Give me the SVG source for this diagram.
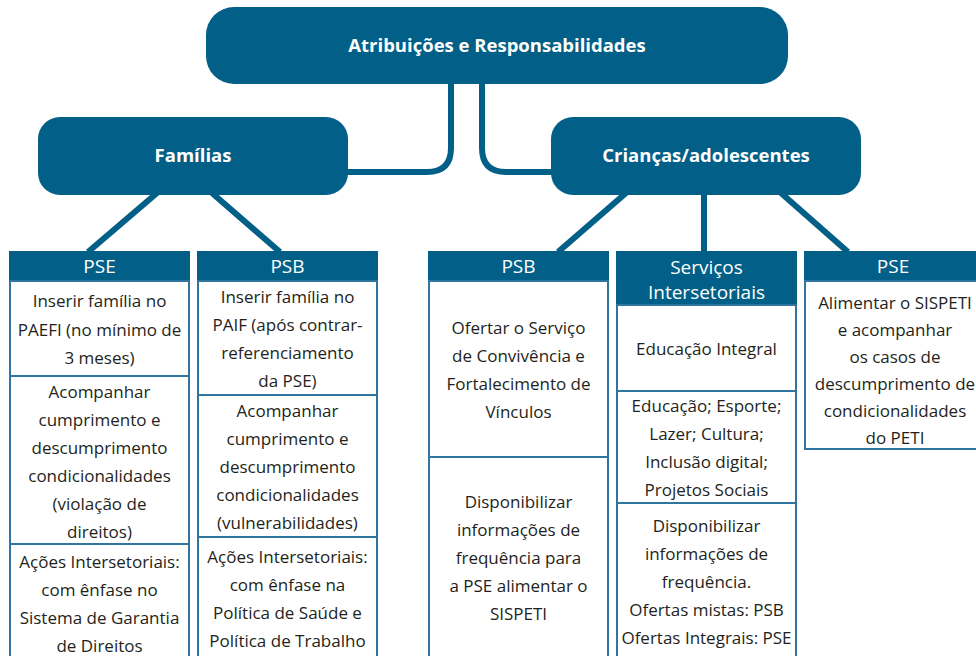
<svg xmlns="http://www.w3.org/2000/svg" width="976" height="656" viewBox="0 0 976 656">
<style>
.bx{fill:#025f87}
.hd{fill:#025f87}
.cell{fill:#ffffff;stroke:#2f75a0;stroke-width:2}
.ln{fill:none;stroke:#025f87;stroke-width:6}
.tb{font-family:"Open Sans",sans-serif;font-weight:bold;font-size:18.5px;fill:#ffffff;text-anchor:middle}
.th{font-family:"Open Sans",sans-serif;font-size:19px;fill:#ffffff;text-anchor:middle}
.t{font-family:"Open Sans",sans-serif;font-size:17px;fill:#231f20;text-anchor:middle}
</style>
<rect width="976" height="656" fill="#ffffff"/>
<g id="connectors">
<path class="ln" d="M451,80 V148 Q451,172 427,172 H345"/>
<path class="ln" d="M482,80 V148 Q482,172 506,172 H555"/>
<line class="ln" x1="157" y1="193" x2="88" y2="252"/>
<line class="ln" x1="212" y1="193" x2="280" y2="252"/>
<line class="ln" x1="626" y1="193" x2="558" y2="252"/>
<line class="ln" x1="704" y1="193" x2="704" y2="252"/>
<line class="ln" x1="781" y1="193" x2="848" y2="252"/>
</g>
<g id="root">
<rect class="bx" x="206" y="7" width="582" height="77" rx="28"/>
<text class="tb" x="497" y="52">Atribuições e Responsabilidades</text>
</g>
<g id="familias">
<rect class="bx" x="38" y="117" width="310" height="78" rx="22"/>
<text class="tb" x="193" y="162">Famílias</text>
</g>
<g id="criancas">
<rect class="bx" x="551" y="117" width="310" height="78" rx="22"/>
<text class="tb" x="706" y="162">Crianças/adolescentes</text>
</g>
<g id="col-pse-familias">
<rect class="hd" x="9" y="251" width="181" height="30"/>
<text class="th" x="99.5" y="273">PSE</text>
<rect class="cell" x="10" y="281" width="179" height="95"/>
<text class="t" x="99.5" y="307">Inserir família no</text>
<text class="t" x="99.5" y="336">PAEFI (no mínimo de</text>
<text class="t" x="99.5" y="364">3 meses)</text>
<rect class="cell" x="10" y="376" width="179" height="168"/>
<text class="t" x="99.5" y="398">Acompanhar</text>
<text class="t" x="99.5" y="426">cumprimento e</text>
<text class="t" x="99.5" y="454">descumprimento</text>
<text class="t" x="99.5" y="482">condicionalidades</text>
<text class="t" x="99.5" y="510">(violação de</text>
<text class="t" x="99.5" y="538">direitos)</text>
<rect class="cell" x="10" y="544" width="179" height="120"/>
<text class="t" x="99.5" y="568">Ações Intersetoriais:</text>
<text class="t" x="99.5" y="596">com ênfase no</text>
<text class="t" x="99.5" y="624">Sistema de Garantia</text>
<text class="t" x="99.5" y="652">de Direitos</text>
</g>
<g id="col-psb-familias">
<rect class="hd" x="197" y="251" width="181" height="30"/>
<text class="th" x="287.5" y="273">PSB</text>
<rect class="cell" x="198" y="281" width="179" height="114"/>
<text class="t" x="287.5" y="303">Inserir família no</text>
<text class="t" x="287.5" y="331">PAIF (após contrar-</text>
<text class="t" x="287.5" y="359">referenciamento</text>
<text class="t" x="287.5" y="387">da PSE)</text>
<rect class="cell" x="198" y="395" width="179" height="142"/>
<text class="t" x="287.5" y="417">Acompanhar</text>
<text class="t" x="287.5" y="445">cumprimento e</text>
<text class="t" x="287.5" y="473">descumprimento</text>
<text class="t" x="287.5" y="501">condicionalidades</text>
<text class="t" x="287.5" y="529">(vulnerabilidades)</text>
<rect class="cell" x="198" y="537" width="179" height="127"/>
<text class="t" x="287.5" y="563">Ações Intersetoriais:</text>
<text class="t" x="287.5" y="591">com ênfase na</text>
<text class="t" x="287.5" y="619">Política de Saúde e</text>
<text class="t" x="287.5" y="647">Política de Trabalho</text>
</g>
<g id="col-psb-criancas">
<rect class="hd" x="428" y="251" width="181" height="30"/>
<text class="th" x="518.5" y="273">PSB</text>
<rect class="cell" x="429" y="281" width="179" height="176"/>
<text class="t" x="518.5" y="334">Ofertar o Serviço</text>
<text class="t" x="518.5" y="362">de Convivência e</text>
<text class="t" x="518.5" y="390">Fortalecimento de</text>
<text class="t" x="518.5" y="418">Vínculos</text>
<rect class="cell" x="429" y="457" width="179" height="207"/>
<text class="t" x="518.5" y="508">Disponibilizar</text>
<text class="t" x="518.5" y="536">informações de</text>
<text class="t" x="518.5" y="564">frequência para</text>
<text class="t" x="518.5" y="592">a PSE alimentar o</text>
<text class="t" x="518.5" y="620">SISPETI</text>
</g>
<g id="col-servicos">
<rect class="hd" x="616" y="251" width="181" height="54"/>
<text class="th" x="706.5" y="274">Serviços</text>
<text class="th" x="706.5" y="299">Intersetoriais</text>
<rect class="cell" x="617" y="305" width="179" height="86"/>
<text class="t" x="706.5" y="355">Educação Integral</text>
<rect class="cell" x="617" y="391" width="179" height="112"/>
<text class="t" x="706.5" y="412">Educação; Esporte;</text>
<text class="t" x="706.5" y="440">Lazer; Cultura;</text>
<text class="t" x="706.5" y="468">Inclusão digital;</text>
<text class="t" x="706.5" y="496">Projetos Sociais</text>
<rect class="cell" x="617" y="503" width="179" height="161"/>
<text class="t" x="706.5" y="532">Disponibilizar</text>
<text class="t" x="706.5" y="560">informações de</text>
<text class="t" x="706.5" y="588">frequência.</text>
<text class="t" x="706.5" y="616">Ofertas mistas: PSB</text>
<text class="t" x="706.5" y="644">Ofertas Integrais: PSE</text>
</g>
<g id="col-pse-criancas">
<rect class="hd" x="804" y="251" width="181" height="30"/>
<text class="th" x="893" y="273">PSE</text>
<rect class="cell" x="805" y="281" width="179" height="168"/>
<text class="t" x="895" y="309">Alimentar o SISPETI</text>
<text class="t" x="895" y="336">e acompanhar</text>
<text class="t" x="895" y="363">os casos de</text>
<text class="t" x="895" y="390">descumprimento de</text>
<text class="t" x="895" y="417">condicionalidades</text>
<text class="t" x="895" y="444">do PETI</text>
</g>
</svg>
